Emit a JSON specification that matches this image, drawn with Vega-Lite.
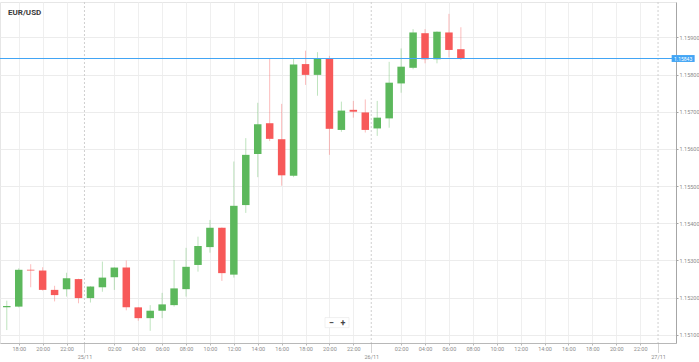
{
  "$schema": "https://vega.github.io/schema/vega-lite/v6.json",
  "width": 676,
  "height": 341,
  "autosize": {"type": "none"},
  "padding": {"left": 0, "top": 2, "right": 23, "bottom": 19},
  "background": "white",
  "config": {"view": {"stroke": "#e6e6e6"}, "font": "Roboto"},
  "title": {"text": "EUR/USD", "anchor": "start", "frame": "group", "offset": -15, "dx": 8, "fontSize": 8, "fontWeight": "bold", "color": "#3a3a3a", "font": "Roboto"},
  "datasets": {
    "candles": [
      {"time": "2020-11-24T17:00:00Z", "open": 1.15174, "high": 1.15192, "low": 1.15113, "close": 1.15178},
      {"time": "2020-11-24T18:00:00Z", "open": 1.15176, "high": 1.15279, "low": 1.15174, "close": 1.15275},
      {"time": "2020-11-24T19:00:00Z", "open": 1.15275, "high": 1.15290, "low": 1.15228, "close": 1.15273},
      {"time": "2020-11-24T20:00:00Z", "open": 1.15273, "high": 1.15282, "low": 1.15219, "close": 1.15221},
      {"time": "2020-11-24T21:00:00Z", "open": 1.15221, "high": 1.15232, "low": 1.15190, "close": 1.15207},
      {"time": "2020-11-24T22:00:00Z", "open": 1.15223, "high": 1.15267, "low": 1.15203, "close": 1.15252},
      {"time": "2020-11-24T23:00:00Z", "open": 1.15250, "high": 1.15251, "low": 1.15185, "close": 1.15199},
      {"time": "2020-11-25T00:00:00Z", "open": 1.15199, "high": 1.15231, "low": 1.15187, "close": 1.15230},
      {"time": "2020-11-25T01:00:00Z", "open": 1.15228, "high": 1.15297, "low": 1.15216, "close": 1.15254},
      {"time": "2020-11-25T02:00:00Z", "open": 1.15255, "high": 1.15282, "low": 1.15221, "close": 1.15281},
      {"time": "2020-11-25T03:00:00Z", "open": 1.15281, "high": 1.15300, "low": 1.15166, "close": 1.15174},
      {"time": "2020-11-25T04:00:00Z", "open": 1.15174, "high": 1.15175, "low": 1.15138, "close": 1.15145},
      {"time": "2020-11-25T05:00:00Z", "open": 1.15145, "high": 1.15180, "low": 1.15111, "close": 1.15165},
      {"time": "2020-11-25T06:00:00Z", "open": 1.15165, "high": 1.15213, "low": 1.15145, "close": 1.15182},
      {"time": "2020-11-25T07:00:00Z", "open": 1.15180, "high": 1.15301, "low": 1.15176, "close": 1.15225},
      {"time": "2020-11-25T08:00:00Z", "open": 1.15223, "high": 1.15334, "low": 1.15203, "close": 1.15283},
      {"time": "2020-11-25T09:00:00Z", "open": 1.15288, "high": 1.15364, "low": 1.15270, "close": 1.15339},
      {"time": "2020-11-25T10:00:00Z", "open": 1.15336, "high": 1.15409, "low": 1.15321, "close": 1.15388},
      {"time": "2020-11-25T11:00:00Z", "open": 1.15388, "high": 1.15389, "low": 1.15245, "close": 1.15266},
      {"time": "2020-11-25T12:00:00Z", "open": 1.15262, "high": 1.15566, "low": 1.15254, "close": 1.15447},
      {"time": "2020-11-25T13:00:00Z", "open": 1.15449, "high": 1.15629, "low": 1.15428, "close": 1.15584},
      {"time": "2020-11-25T14:00:00Z", "open": 1.15586, "high": 1.15724, "low": 1.15524, "close": 1.15666},
      {"time": "2020-11-25T15:00:00Z", "open": 1.15669, "high": 1.15844, "low": 1.15621, "close": 1.15627},
      {"time": "2020-11-25T16:00:00Z", "open": 1.15626, "high": 1.15721, "low": 1.15501, "close": 1.15529},
      {"time": "2020-11-25T17:00:00Z", "open": 1.15528, "high": 1.15844, "low": 1.15524, "close": 1.15827},
      {"time": "2020-11-25T18:00:00Z", "open": 1.15828, "high": 1.15864, "low": 1.15772, "close": 1.15799},
      {"time": "2020-11-25T19:00:00Z", "open": 1.15799, "high": 1.15860, "low": 1.15743, "close": 1.15844},
      {"time": "2020-11-25T20:00:00Z", "open": 1.15842, "high": 1.15850, "low": 1.15584, "close": 1.15654},
      {"time": "2020-11-25T21:00:00Z", "open": 1.15651, "high": 1.15727, "low": 1.15646, "close": 1.15703},
      {"time": "2020-11-25T22:00:00Z", "open": 1.15705, "high": 1.15729, "low": 1.15684, "close": 1.15700},
      {"time": "2020-11-25T23:00:00Z", "open": 1.15698, "high": 1.15733, "low": 1.15644, "close": 1.15651},
      {"time": "2020-11-26T00:00:00Z", "open": 1.15655, "high": 1.15729, "low": 1.15635, "close": 1.15684},
      {"time": "2020-11-26T01:00:00Z", "open": 1.15682, "high": 1.15834, "low": 1.15657, "close": 1.15778},
      {"time": "2020-11-26T02:00:00Z", "open": 1.15776, "high": 1.15870, "low": 1.15751, "close": 1.15821},
      {"time": "2020-11-26T03:00:00Z", "open": 1.15818, "high": 1.15922, "low": 1.15814, "close": 1.15913},
      {"time": "2020-11-26T04:00:00Z", "open": 1.15911, "high": 1.15922, "low": 1.15830, "close": 1.15841},
      {"time": "2020-11-26T05:00:00Z", "open": 1.15841, "high": 1.15916, "low": 1.15830, "close": 1.15915},
      {"time": "2020-11-26T06:00:00Z", "open": 1.15913, "high": 1.15963, "low": 1.15846, "close": 1.15866},
      {"time": "2020-11-26T07:00:00Z", "open": 1.15868, "high": 1.15927, "low": 1.15839, "close": 1.15844}
    ],
    "dates": [
      {"time": "2020-11-24T23:30:00Z"},
      {"time": "2020-11-25T23:30:00Z"},
      {"time": "2020-11-26T23:30:00Z"}
    ],
    "price": [{"price": 1.15843, "label": "1.15843"}],
    "ui": [{"time": "2020-11-25T20:38:00Z", "price": 1.15133, "label": "−\u00a0\u00a0\u00a0+"}]
  },
  "resolve": {"axis": {"x": "independent"}},
  "layer": [
    {
      "data": {"name": "candles"},
      "mark": {"type": "rule", "strokeWidth": 1},
      "encoding": {
        "x": {
          "field": "time", "type": "temporal",
          "scale": {"type": "utc", "domain": [1606236660000, 1606437300000]},
          "axis": {
            "orient": "bottom", "title": null, "format": "%H:%M",
            "values": [1606240800000, 1606248000000, 1606255200000,
              1606269600000, 1606276800000, 1606284000000, 1606291200000, 1606298400000, 1606305600000,
              1606312800000, 1606320000000, 1606327200000, 1606334400000, 1606341600000,
              1606356000000, 1606363200000, 1606370400000, 1606377600000, 1606384800000, 1606392000000,
              1606399200000, 1606406400000, 1606413600000, 1606420800000, 1606428000000],
            "grid": true, "gridColor": "#efefef",
            "domainColor": "#b8b8b8", "tickColor": "#b8b8b8", "tickSize": 2,
            "labelPadding": 1.5, "labelFontSize": 5.5, "labelColor": "#8c8c8c",
            "labelFlush": false, "labelOverlap": false
          }
        },
        "y": {
          "field": "low", "type": "quantitative",
          "scale": {"domain": [1.150782, 1.159949], "zero": false, "nice": false},
          "axis": {
            "orient": "right", "title": null,
            "values": [1.151, 1.152, 1.153, 1.154, 1.155, 1.156, 1.157, 1.158, 1.159],
            "format": ".5f", "grid": true, "gridColor": "#ececec",
            "domainColor": "#a6a6a6", "tickColor": "#a6a6a6", "tickSize": 2,
            "labelPadding": 1, "labelFontSize": 5.5, "labelColor": "#8c8c8c"
          }
        },
        "y2": {"field": "high"},
        "color": {"condition": {"test": "datum.close >= datum.open", "value": "#5cb85c"}, "value": "#f75959"},
        "opacity": {"value": 0.4}
      }
    },
    {
      "data": {"name": "candles"},
      "mark": {"type": "bar", "width": 7.5},
      "encoding": {
        "x": {"field": "time", "type": "temporal", "axis": null},
        "y": {"field": "open", "type": "quantitative"},
        "y2": {"field": "close"},
        "color": {"condition": {"test": "datum.close >= datum.open", "value": "#5cb85c"}, "value": "#f75959"}
      }
    },
    {
      "data": {"name": "dates"},
      "mark": {"type": "rule", "color": "#cfcfcf", "strokeDash": [2, 2], "strokeWidth": 1},
      "encoding": {
        "x": {
          "field": "time", "type": "temporal",
          "axis": {
            "orient": "bottom", "title": null,
            "values": [1606260600000, 1606347000000, 1606433400000],
            "labelExpr": "utcFormat(time(datum.value) + 1800000, '%d/%m')",
            "domain": false, "grid": false,
            "tickSize": 9, "tickDash": [1, 1], "tickColor": "#a8a8a8",
            "labelPadding": 2, "labelFontSize": 5.5, "labelColor": "#8c8c8c"
          }
        }
      }
    },
    {
      "data": {"name": "price"},
      "mark": {"type": "rule", "color": "#42a5f5", "strokeWidth": 1},
      "encoding": {
        "y": {"field": "price", "type": "quantitative"}
      }
    },
    {
      "data": {"name": "price"},
      "mark": {"type": "point", "shape": "M-1,-0.3L1,-0.3L1,0.3L-1,0.3Z", "size": 529, "filled": true, "color": "#42a5f5", "opacity": 1},
      "encoding": {
        "x": {"datum": 1606440960000, "type": "temporal", "axis": null},
        "y": {"field": "price", "type": "quantitative"}
      }
    },
    {
      "data": {"name": "price"},
      "mark": {"type": "text", "color": "white", "fontSize": 5, "align": "center", "baseline": "middle"},
      "encoding": {
        "x": {"datum": 1606440960000, "type": "temporal", "axis": null},
        "y": {"field": "price", "type": "quantitative"},
        "text": {"field": "label"}
      }
    },
    {
      "data": {"name": "ui"},
      "mark": {"type": "point", "shape": "M-1,-0.42L1,-0.42L1,0.42L-1,0.42Z", "size": 576, "filled": true, "fill": "white", "stroke": "#e2e2e2", "strokeWidth": 0.5, "opacity": 1},
      "encoding": {
        "x": {"field": "time", "type": "temporal", "axis": null},
        "y": {"field": "price", "type": "quantitative"}
      }
    },
    {
      "data": {"name": "ui"},
      "mark": {"type": "text", "color": "#444444", "fontSize": 9, "fontWeight": "bold", "align": "center", "baseline": "middle"},
      "encoding": {
        "x": {"field": "time", "type": "temporal", "axis": null},
        "y": {"field": "price", "type": "quantitative"},
        "text": {"field": "label"}
      }
    }
  ]
}
